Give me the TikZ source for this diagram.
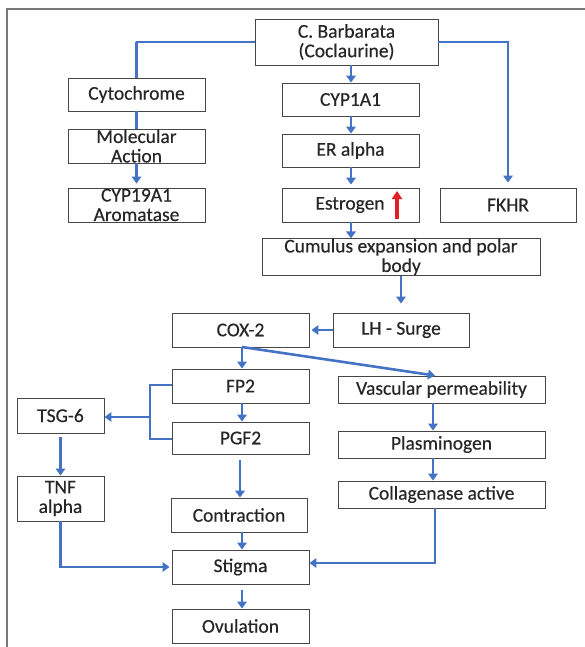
\documentclass[tikz,border=0pt]{standalone}
\usepackage{fontspec}
\setmainfont{Carlito}[FakeBold=0.35]
\usetikzlibrary{arrows.meta}
\definecolor{lnblue}{RGB}{68,114,196}
\definecolor{bxgray}{RGB}{70,70,70}
\definecolor{frgray}{RGB}{120,120,120}
\definecolor{upred}{RGB}{228,30,36}
\tikzset{
  box/.style={draw=bxgray, line width=0.9pt, fill=white, inner sep=0pt, align=center,
    font=\fontsize{19.5}{19.5}\selectfont, text=black!85},
  conn/.style={draw=lnblue, line width=2.6pt},
  arr/.style={conn, -{Triangle[length=7pt,width=9.5pt]}},
}
\begin{document}
\begin{tikzpicture}[x=1pt,y=-1pt]
\useasboundingbox (0,0) rectangle (585,647);
\draw[frgray, line width=1.3pt] (7,647) -- (7,9) -- (585,9);
% boxes
\node[box, minimum width=183pt, minimum height=46pt] (cb) at (346.5,42) {C. Barbarata\\(Coclaurine)};
\node[box, minimum width=137pt, minimum height=33pt] (cyto) at (136.5,94.5) {Cytochrome};
\node[box, minimum width=137pt, minimum height=33pt] (cyp1) at (350.5,99.5) {CYP1A1};
\node[box, minimum width=137pt, minimum height=34pt] (mol) at (136.5,146) {Molecular\\Action};
\node[box, minimum width=137pt, minimum height=33pt] (er) at (350.5,150.5) {ER alpha};
\node[box, minimum width=137pt, minimum height=34pt] (cyp19) at (136.5,205) {CYP19A1\\Aromatase};
\node[box, minimum width=137pt, minimum height=34pt] (estr) at (350.5,205) {\hspace*{-1pt}Estrogen};
\node[box, minimum width=136pt, minimum height=34pt] (fkhr) at (508,205) {FKHR};
\node[box, minimum width=278pt, minimum height=34pt] (cum) at (401,257) {Cumulus expansion and polar\\body};
\node[box, minimum width=137pt, minimum height=34pt] (cox) at (240.5,330) {COX-2};
\node[box, minimum width=136pt, minimum height=34pt] (lh) at (401,330) {LH - Surge};
\node[box, minimum width=137pt, minimum height=34pt] (fp2) at (240.5,386) {FP2};
\node[box, minimum width=207pt, minimum height=27pt] (vasc) at (441.5,389.5) {Vascular permeability};
\node[box, minimum width=87pt, minimum height=35pt] (tsg) at (60.5,415.5) {TSG-6};
\node[box, minimum width=137pt, minimum height=32pt] (pgf) at (240.5,438) {PGF2};
\node[box, minimum width=207pt, minimum height=27pt] (plas) at (441.5,444.5) {Plasminogen};
\node[box, minimum width=207pt, minimum height=27pt] (coll) at (441.5,494.5) {Collagenase active};
\node[box, minimum width=87pt, minimum height=45pt] (tnf) at (60.5,498.5) {TNF\\alpha};
\node[box, minimum width=136pt, minimum height=34pt] (contr) at (239,515) {Contraction};
\node[box, minimum width=137pt, minimum height=34pt] (stig) at (240.5,567) {Stigma};
\node[box, minimum width=137pt, minimum height=34pt] (ovu) at (240.5,626) {Ovulation};
% red up arrow
\coordinate (ra) at (397,219);
\coordinate (rb) at (397,191);
\draw[upred, line width=3.2pt, -{Triangle[length=8pt,width=10pt]}] (ra) -- (rb);
% connectors
\draw[conn] (cb.west |- 0,42) -- (136,42) -- (136,42 -| cyto.north) -- (cyto.north);
\draw[arr, shorten >=5pt] (cb.east |- 0,42) -| (fkhr.north);
\draw[arr] (cb.south -| 351,0) -- (cyp1.north -| 351,0);
\draw[conn] (cyto) -- (mol);
\draw[arr, shorten >=4pt] (mol) -- (cyp19);
\draw[arr] (cyp1.south -| 351,0) -- (er.north -| 351,0);
\draw[arr, shorten >=3pt] (er.south -| 351,0) -- (estr.north -| 351,0);
\draw[arr] (estr.south -| 351,0) -- (cum.north -| 351,0);
\draw[arr, shorten >=9pt] (cum.south) -- (lh.north);
\draw[arr, shorten >=2pt] (lh) -- (cox);
\coordinate (cx) at (242,347);
\draw[arr] (cx) -- (fp2.north -| 242,0);
\draw[arr] (cx) -- (vasc.north -| 435,0);
\draw[conn] (fp2.west |- 0,385) -- (150,385) -- (150,439) -- (pgf.west |- 0,439);
\coordinate (br) at (150,417);
\draw[arr] (br) -- (tsg.east |- br);
\draw[arr] (fp2.south -| 242,0) -- (pgf.north -| 242,0);
\draw[arr] (vasc.south -| 433,0) -- (plas.north -| 433,0);
\draw[arr] (plas.south -| 433,0) -- (coll.north -| 433,0);
\draw[arr, shorten <=4pt] (tsg) -- (tnf);
\draw[arr, shorten <=6pt] (pgf.south -| 240,0) -- (contr.north -| 240,0);
\draw[arr] (contr.south -| 242,0) -- (stig.north -| 242,0);
\draw[arr, shorten >=2pt] (tnf.south) |- (stig.west |- 0,567);
\draw[arr] (coll.south -| 435,0) |- (stig.east |- 0,563);
\draw[arr, shorten <=6pt] (stig.south -| 242,0) -- (ovu.north -| 242,0);
\end{tikzpicture}
\end{document}
